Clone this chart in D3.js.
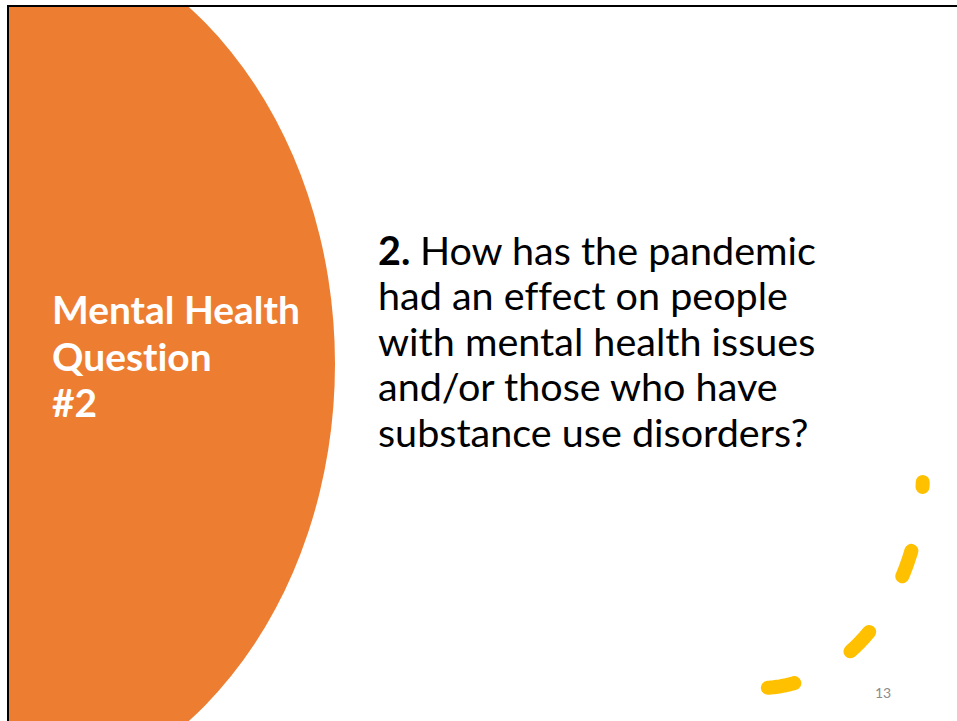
<!DOCTYPE html>
<html>
<head>
<meta charset="utf-8">
<script src="https://cdn.jsdelivr.net/npm/d3@7"></script>
<style>
  html, body { margin: 0; padding: 0; background: #fff; overflow: hidden; }
  text { font-variant-ligatures: none; }
</style>
</head>
<body>
<script>
const width = 957;
const height = 721;

// slide content
const titleLines = ["Mental Health", "Question", "#2"];
const questionLead = "2.";
const questionLines = [
    "How has the pandemic",
    "had an effect on people",
    "with mental health issues",
    "and/or those who have",
    "substance use disorders?"
];
const slideNumber = "13";

const fontFamily = "Lato, 'Open Sans', sans-serif";

const svg = d3.select(document.body).append("svg")
    .attr("width", width)
    .attr("height", height)
    .attr("viewBox", [0, 0, width, height]);

// the slide area sits inside a thin black frame
svg.append("clipPath")
    .attr("id", "slide")
    .append("rect")
    .attr("x", 8)
    .attr("y", 6)
    .attr("width", width)
    .attr("height", height);

// big orange ellipse on the left, cut by the slide edges
svg.append("ellipse")
    .attr("clip-path", "url(#slide)")
    .attr("cx", -19)
    .attr("cy", 364)
    .attr("rx", 354)
    .attr("ry", 441)
    .attr("fill", "#ED7D31");

svg.append("path")
    .attr("d", `M7,6H${width}M8,6V${height}`)
    .attr("fill", "none")
    .attr("stroke", "#000")
    .attr("stroke-width", 2);

// dashed yellow quarter ellipse, bottom right
const arc = { cx: 760, cy: 470, rx: 163, ry: 218 };
const theta = d3.range(0.055, Math.PI / 2 + 0.001, 0.01);
const arcLine = d3.line()
    .x(t => arc.cx + arc.rx * Math.cos(t))
    .y(t => arc.cy + arc.ry * Math.sin(t));

svg.append("path")
    .attr("d", arcLine(theta))
    .attr("fill", "none")
    .attr("stroke", "#FFC000")
    .attr("stroke-width", 14)
    .attr("stroke-linecap", "round")
    .attr("stroke-dasharray", "27 65")
    .attr("stroke-dashoffset", 22);

// fit a block of lines so that its widest line spans the given width
function fitBlock(text, targetWidth) {
    let widest = 0;
    text.each(function () {
        widest = Math.max(widest, this.getComputedTextLength());
    });
    return targetWidth / widest;
}

// left title
const titleY = d3.scaleLinear().domain([0, 1]).range([324, 370.5]);
const title = svg.append("g")
    .attr("fill", "#fff")
    .attr("font-family", fontFamily)
    .attr("font-weight", 700)
    .attr("font-size", 40)
    .selectAll("text")
    .data(titleLines)
    .join("text")
    .attr("x", 52)
    .attr("y", (d, i) => titleY(i))
    .text(d => d);
const titleScale = fitBlock(title, 248);
title.attr("font-size", 40 * titleScale);

// the question
const questionY = d3.scaleLinear().domain([0, 1]).range([264.5, 310]);
const question = svg.append("g")
    .attr("fill", "#000")
    .attr("font-family", fontFamily)
    .attr("font-size", 40)
    .selectAll("text")
    .data(questionLines)
    .join("text")
    .attr("x", 378)
    .attr("y", (d, i) => questionY(i));

question.filter((d, i) => i === 0)
    .append("tspan")
    .attr("font-weight", 700)
    .text(questionLead + " ");
question.append("tspan")
    .text(d => d);

const questionScale = fitBlock(question, 438);
question.attr("font-size", 40 * questionScale);

// slide number
svg.append("text")
    .attr("x", 883)
    .attr("y", 698)
    .attr("text-anchor", "middle")
    .attr("font-family", fontFamily)
    .attr("font-size", 14)
    .attr("fill", "#8c8c8c")
    .text(slideNumber);
</script>
</body>
</html>
